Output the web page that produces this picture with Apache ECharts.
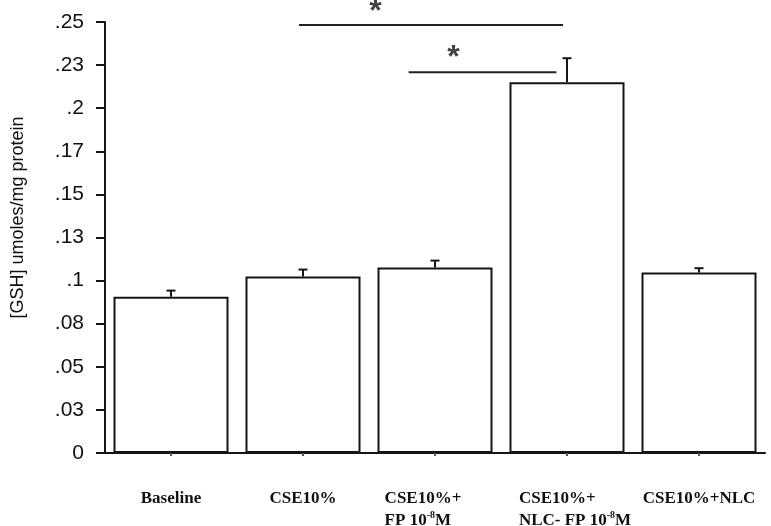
<!DOCTYPE html>
<html>
<head>
<meta charset="utf-8">
<script src="https://cdn.jsdelivr.net/npm/echarts@6/dist/echarts.min.js"></script>
<style>html,body{margin:0;padding:0;background:#fff}#c{width:771px;height:526px}</style>
</head>
<body>
<div id="c"></div>
<script>
// ---- data ----
const categories = ['Baseline', 'CSE10%', 'CSE10%+\nFP 10-8M', 'CSE10%+\nNLC- FP 10-8M', 'CSE10%+NLC'];
const means = [0.0907, 0.1024, 0.1076, 0.2151, 0.1047];
const errorTops = [0.0942, 0.1064, 0.1116, 0.2290, 0.1072];
const yTickLabels = ['0', '.03', '.05', '.08', '.1', '.13', '.15', '.17', '.2', '.23', '.25'];
// significance brackets: [start (category units), end (category units), value]
const sigLines = [[1.47, 3.47, 0.2483], [2.30, 3.42, 0.2209]];
// asterisks: [x (category units), value]
const sigStars = [[2.05, 0.2555], [2.64, 0.2290]];

const chart = echarts.init(document.getElementById('c'));
const black = '#151515';

function fmtCat(v) {
  const lines = v.split('\n').map(function (l) {
    const m = l.match(/^(.*10)(-8)(M)$/);
    if (m) return '{a|' + m[1] + '}{s|' + m[2] + '}{a|' + m[3] + '}';
    return '{a|' + l + '}';
  });
  return lines.join('\n');
}
// small label nudges to match the original hand placement
const labelPads = [null, null, [0, 24, 0, 0], [0, 0, 0, 16], null];
const catData = categories.map(function (c, i) {
  return labelPads[i] ? { value: c, textStyle: { padding: labelPads[i] } } : c;
});

const series = [
  {
    type: 'bar',
    data: means,
    barWidth: 115,
    itemStyle: { color: '#fff', borderColor: black, borderWidth: 2 },
    z: 2
  },
  {
    type: 'custom',
    data: means.map(function (m, i) { return [i, m, errorTops[i]]; }),
    renderItem: function (params, api) {
      const p0 = api.coord([api.value(0), api.value(1)]);
      const p1 = api.coord([api.value(0), api.value(2)]);
      const w = 4.5;
      return {
        type: 'group',
        children: [
          { type: 'line', shape: { x1: p0[0], y1: p0[1], x2: p1[0], y2: p1[1] }, style: { stroke: black, lineWidth: 2 } },
          { type: 'line', shape: { x1: p1[0] - w, y1: p1[1], x2: p1[0] + w, y2: p1[1] }, style: { stroke: black, lineWidth: 2 } }
        ]
      };
    },
    z: 3
  }
];
sigLines.forEach(function (s) {
  series.push({
    type: 'line', xAxisIndex: 1, data: [[s[0], s[2]], [s[1], s[2]]],
    symbol: 'none', lineStyle: { color: '#222', width: 2 }, silent: true, z: 4
  });
});
series.push({
  type: 'scatter', xAxisIndex: 1, data: sigStars, symbolSize: 1, clip: false,
  itemStyle: { color: 'rgba(0,0,0,0)' },
  label: { show: true, position: 'inside', formatter: '*', fontSize: 32, color: '#111',
           fontFamily: 'Liberation Sans', fontWeight: 'bold' },
  z: 5
});

chart.setOption({
  animation: false,
  backgroundColor: '#fff',
  grid: { left: 105, right: 6, top: 22, bottom: 73, containLabel: false, outerBoundsMode: 'none' },
  xAxis: [
    {
      type: 'category',
      data: catData,
      axisLine: { lineStyle: { color: black, width: 2 } },
      axisTick: { show: true, alignWithLabel: true, length: 3, lineStyle: { color: '#555', width: 2 } },
      axisLabel: {
        margin: 35, interval: 0, lineHeight: 22,
        formatter: fmtCat,
        rich: {
          a: { fontFamily: 'Liberation Serif', fontWeight: 'bold', fontSize: 17, color: '#111', align: 'left', lineHeight: 22 },
          s: { fontFamily: 'Liberation Serif', fontWeight: 'bold', fontSize: 10, color: '#111', align: 'left', verticalAlign: 'top', lineHeight: 22, padding: [0, 0, 7, 0] }
        }
      }
    },
    { type: 'value', min: 0, max: 5, show: false }
  ],
  yAxis: {
    type: 'value', min: 0, max: 0.25, interval: 0.025,
    name: '[GSH] umoles/mg protein',
    nameLocation: 'middle', nameGap: 78, nameRotate: 90,
    nameTextStyle: { fontFamily: 'Liberation Sans', fontSize: 18, color: '#111', padding: [0, 0, 0, 40] },
    axisLine: { show: true, lineStyle: { color: black, width: 2 } },
    axisTick: { show: true, length: 9, lineStyle: { color: black, width: 2 } },
    splitLine: { show: false },
    axisLabel: {
      margin: 21, fontFamily: 'Liberation Sans', fontSize: 21, color: '#111',
      formatter: function (v) { return yTickLabels[Math.round(v / 0.025)]; }
    }
  },
  series: series
});
</script>
</body>
</html>
